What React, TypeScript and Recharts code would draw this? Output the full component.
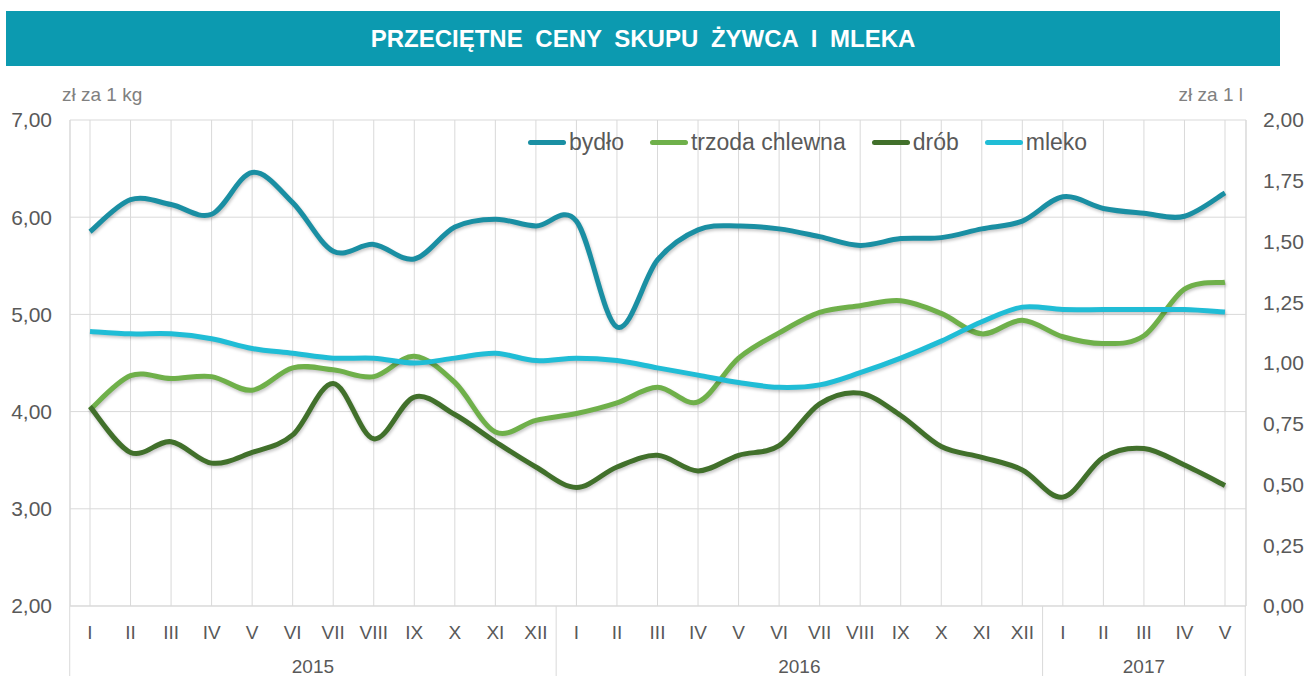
import React from 'react';
import { LineChart, Line, XAxis, YAxis, CartesianGrid } from 'recharts';

// months Jan 2015 - May 2017
const MONTHS = [
  'I', 'II', 'III', 'IV', 'V', 'VI', 'VII', 'VIII', 'IX', 'X', 'XI', 'XII',
  'I', 'II', 'III', 'IV', 'V', 'VI', 'VII', 'VIII', 'IX', 'X', 'XI', 'XII',
  'I', 'II', 'III', 'IV', 'V',
];
const YEARS = [
  { label: '2015', start: 0, end: 11 },
  { label: '2016', start: 12, end: 23 },
  { label: '2017', start: 24, end: 28 },
];

// zł za 1 kg
const BYDLO = [
  5.85, 6.18, 6.13, 6.03, 6.46, 6.15, 5.65, 5.72, 5.57, 5.90, 5.98, 5.91,
  5.96, 4.87, 5.56, 5.87, 5.91, 5.88, 5.80, 5.71, 5.78, 5.79, 5.88, 5.96,
  6.21, 6.09, 6.04, 6.01, 6.25,
];
const TRZODA = [
  4.02, 4.37, 4.34, 4.36, 4.22, 4.45, 4.43, 4.36, 4.57, 4.30, 3.79, 3.91,
  3.98, 4.09, 4.25, 4.10, 4.55, 4.81, 5.02, 5.09, 5.14, 5.01, 4.80, 4.94,
  4.77, 4.70, 4.78, 5.26, 5.33,
];
const DROB = [
  4.05, 3.58, 3.69, 3.47, 3.58, 3.76, 4.29, 3.72, 4.15, 3.97, 3.69, 3.43,
  3.22, 3.43, 3.55, 3.39, 3.55, 3.65, 4.08, 4.19, 3.96, 3.64, 3.53, 3.40,
  3.12, 3.53, 3.62, 3.45, 3.24,
];
// zł za 1 l
const MLEKO = [
  1.13, 1.12, 1.12, 1.10, 1.06, 1.04, 1.02, 1.02, 1.00, 1.02, 1.04, 1.01,
  1.02, 1.01, 0.98, 0.95, 0.92, 0.90, 0.91, 0.96, 1.02, 1.09, 1.17, 1.23,
  1.22, 1.22, 1.22, 1.22, 1.21,
];

const LEFT_TICKS = [2, 3, 4, 5, 6, 7];
const RIGHT_TICKS = [0, 0.25, 0.5, 0.75, 1, 1.25, 1.5, 1.75, 2];

const SERIES = [
  { key: 'bydlo', name: 'bydło', color: '#1a8fa3', axis: 'l' },
  { key: 'trzoda', name: 'trzoda chlewna', color: '#6fb04a', axis: 'l' },
  { key: 'drob', name: 'drób', color: '#41702b', axis: 'l' },
  { key: 'mleko', name: 'mleko', color: '#20bdd6', axis: 'r' },
];

const W = 1306;
const H = 676;
const PLOT_LEFT = 70;
const PLOT_RIGHT = 1246;
const PLOT_BOTTOM = 606;
const PAD_L = 20;
const PAD_R = 21;
const STEP = (PLOT_RIGHT - PLOT_LEFT - PAD_L - PAD_R) / (MONTHS.length - 1);

const FONT = '"Liberation Sans", Arial, sans-serif';
const TEXT = '#595959';
const GRID = '#d9d9d9';

const data = MONTHS.map((m, i) => ({
  key: `${i}`,
  m,
  bydlo: BYDLO[i],
  trzoda: TRZODA[i],
  drob: DROB[i],
  mleko: MLEKO[i],
}));

const fmt = (v: number) => v.toFixed(2).replace('.', ',');

// Excel-like smoothed line (Catmull-Rom through the points)
const smoothCurve = (ctx: any) => {
  let pts: [number, number][] = [];
  return {
    areaStart() {},
    areaEnd() {},
    lineStart() { pts = []; },
    point(x: number, y: number) { pts.push([x, y]); },
    lineEnd() {
      if (!pts.length) return;
      ctx.moveTo(pts[0][0], pts[0][1]);
      for (let i = 0; i < pts.length - 1; i++) {
        const p0 = pts[i - 1] || pts[i];
        const p1 = pts[i];
        const p2 = pts[i + 1];
        const p3 = pts[i + 2] || p2;
        ctx.bezierCurveTo(
          p1[0] + (p2[0] - p0[0]) / 6, p1[1] + (p2[1] - p0[1]) / 6,
          p2[0] - (p3[0] - p1[0]) / 6, p2[1] - (p3[1] - p1[1]) / 6,
          p2[0], p2[1],
        );
      }
    },
  };
};

const YearTick = (props: any) => {
  const { x, index } = props;
  const half = STEP / 2;
  const out: React.ReactNode[] = [];
  YEARS.forEach((g) => {
    if (index === g.start) {
      out.push(<line key={`s${g.label}`} x1={x - half} x2={x - half} y1={PLOT_BOTTOM} y2={H} stroke={GRID} />);
    }
    if (index === MONTHS.length - 1 && g.end === index) {
      out.push(<line key="e" x1={x + half} x2={x + half} y1={PLOT_BOTTOM} y2={H} stroke={GRID} />);
    }
    const mid = (g.start + g.end) / 2;
    if (index === Math.floor(mid)) {
      out.push(
        <text key={`t${g.label}`} x={x + (mid - Math.floor(mid)) * STEP} y={666} textAnchor="middle"
          dominantBaseline="central" fill={TEXT} fontSize={19} fontFamily={FONT}>
          {g.label}
        </text>
      );
    }
  });
  return <g>{out}</g>;
};

const ChartLegend = () => (
  <div style={{
    position: 'absolute', left: 528, top: 128, display: 'flex', alignItems: 'center',
    fontSize: 23, color: TEXT, lineHeight: '28px',
  }}>
    {SERIES.map((s) => (
      <div key={s.key} style={{ display: 'flex', alignItems: 'center', marginRight: 26 }}>
        <span style={{ width: 38, height: 5, borderRadius: 3, background: s.color, marginRight: 3 }} />
        <span>{s.name}</span>
      </div>
    ))}
  </div>
);

export default function App() {
  return (
    <div style={{ position: 'absolute', left: 0, top: 0, width: W, height: H, background: '#fff', fontFamily: FONT }}>
      <style>{`.recharts-line-curve { filter: drop-shadow(1px 2px 1.5px rgba(0,0,0,0.22)); }`}</style>
      <div style={{
        position: 'absolute', left: 6, top: 11, width: 1274, height: 55, background: '#0c9ab0',
        color: '#fff', fontWeight: 700, fontSize: 24, display: 'flex', alignItems: 'center',
        justifyContent: 'center', wordSpacing: 6,
      }}>
        PRZECIĘTNE CENY SKUPU ŻYWCA I MLEKA
      </div>
      <div style={{ position: 'absolute', left: 62, top: 84, fontSize: 19, color: '#808080' }}>zł za 1 kg</div>
      <div style={{ position: 'absolute', right: W - 1243, top: 84, fontSize: 19, color: '#808080' }}>zł za 1 l</div>
      <div style={{ position: 'absolute', left: 0, top: 0 }}>
        <LineChart width={W} height={H} data={data} margin={{ top: 120, right: 0, bottom: 0, left: 8 }}>
          <CartesianGrid xAxisId="m" yAxisId="l" stroke={GRID} />
          <XAxis
            xAxisId="m"
            dataKey="key"
            height={36}
            interval={0}
            padding={{ left: PAD_L, right: PAD_R }}
            tickFormatter={(v: string) => MONTHS[Number(v)]}
            tickLine={false}
            tickSize={0}
            tickMargin={20}
            axisLine={{ stroke: GRID }}
            tick={{ fill: TEXT, fontSize: 19, fontFamily: FONT }}
          />
          <XAxis
            xAxisId="yr"
            dataKey="key"
            height={34}
            interval={0}
            padding={{ left: PAD_L, right: PAD_R }}
            axisLine={false}
            tickLine={false}
            tick={<YearTick />}
          />
          <YAxis
            yAxisId="l"
            width={62}
            domain={[2, 7]}
            ticks={LEFT_TICKS}
            tickFormatter={fmt}
            tickLine={false}
            tickSize={0}
            tickMargin={18}
            axisLine={{ stroke: GRID }}
            tick={{ fill: TEXT, fontSize: 21, fontFamily: FONT }}
          />
          <YAxis
            yAxisId="r"
            orientation="right"
            width={60}
            domain={[0, 2]}
            ticks={RIGHT_TICKS}
            tickFormatter={fmt}
            tickLine={false}
            tickSize={0}
            tickMargin={17}
            axisLine={{ stroke: GRID }}
            tick={{ fill: TEXT, fontSize: 21, fontFamily: FONT }}
          />
          {SERIES.map((s) => (
            <Line
              key={s.key}
              xAxisId="m"
              yAxisId={s.axis}
              dataKey={s.key}
              name={s.name}
              type={smoothCurve as any}
              stroke={s.color}
              strokeWidth={5}
              dot={false}
              activeDot={false}
              isAnimationActive={false}
            />
          ))}
        </LineChart>
      </div>
      <ChartLegend />
    </div>
  );
}
